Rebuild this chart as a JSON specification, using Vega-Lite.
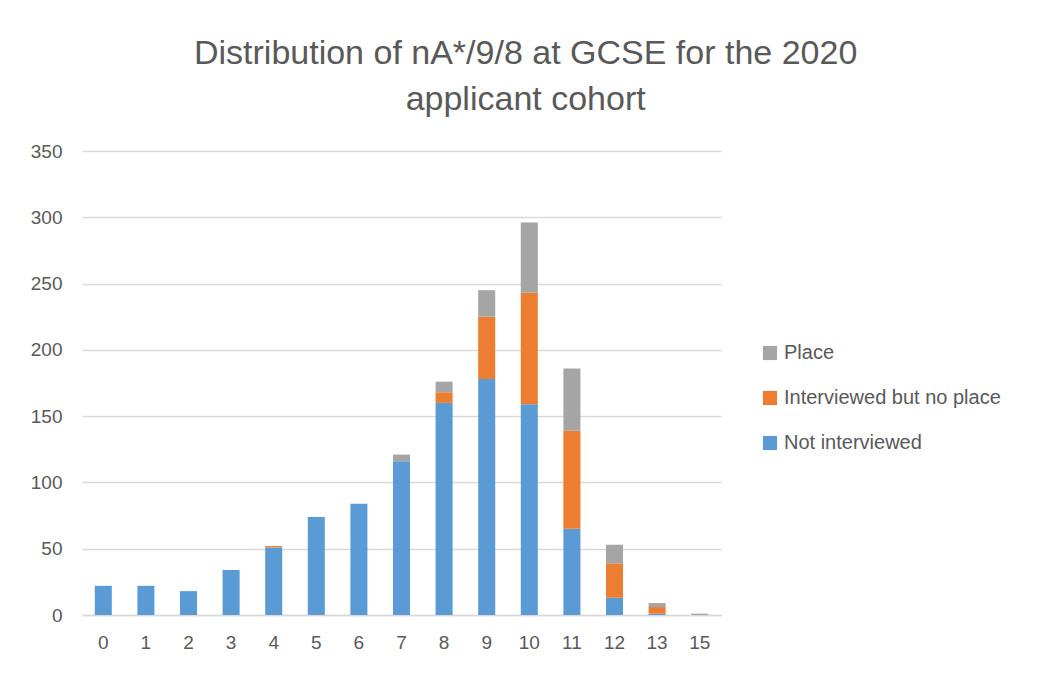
{
  "$schema": "https://vega.github.io/schema/vega-lite/v6.json",
  "width": 639,
  "height": 464,
  "padding": {"left": 30, "top": 37, "right": 10, "bottom": 10},
  "background": "white",
  "title": {
    "text": ["Distribution of nA*/9/8 at GCSE for the 2020", "applicant cohort"],
    "anchor": "middle",
    "frame": "bounds",
    "font": "Liberation Sans",
    "fontSize": 34,
    "fontWeight": "normal",
    "color": "#595959",
    "lineHeight": 46,
    "offset": 25,
    "dx": 10
  },
  "data": {
    "values": [
      {"gcse": "0", "status": "Not interviewed", "count": 22},
      {"gcse": "1", "status": "Not interviewed", "count": 22},
      {"gcse": "2", "status": "Not interviewed", "count": 18},
      {"gcse": "3", "status": "Not interviewed", "count": 34},
      {"gcse": "4", "status": "Not interviewed", "count": 51},
      {"gcse": "4", "status": "Interviewed but no place", "count": 1},
      {"gcse": "5", "status": "Not interviewed", "count": 74},
      {"gcse": "6", "status": "Not interviewed", "count": 84},
      {"gcse": "7", "status": "Not interviewed", "count": 116},
      {"gcse": "7", "status": "Place", "count": 5},
      {"gcse": "8", "status": "Not interviewed", "count": 160},
      {"gcse": "8", "status": "Interviewed but no place", "count": 8},
      {"gcse": "8", "status": "Place", "count": 8},
      {"gcse": "9", "status": "Not interviewed", "count": 178},
      {"gcse": "9", "status": "Interviewed but no place", "count": 47},
      {"gcse": "9", "status": "Place", "count": 20},
      {"gcse": "10", "status": "Not interviewed", "count": 159},
      {"gcse": "10", "status": "Interviewed but no place", "count": 84},
      {"gcse": "10", "status": "Place", "count": 53},
      {"gcse": "11", "status": "Not interviewed", "count": 65},
      {"gcse": "11", "status": "Interviewed but no place", "count": 74},
      {"gcse": "11", "status": "Place", "count": 47},
      {"gcse": "12", "status": "Not interviewed", "count": 13},
      {"gcse": "12", "status": "Interviewed but no place", "count": 26},
      {"gcse": "12", "status": "Place", "count": 14},
      {"gcse": "13", "status": "Not interviewed", "count": 1},
      {"gcse": "13", "status": "Interviewed but no place", "count": 5},
      {"gcse": "13", "status": "Place", "count": 3},
      {"gcse": "15", "status": "Place", "count": 1}
    ]
  },
  "transform": [
    {"calculate": "indexof(['Not interviewed','Interviewed but no place','Place'], datum.status)", "as": "stackOrder"}
  ],
  "mark": {"type": "bar"},
  "encoding": {
    "x": {
      "field": "gcse",
      "type": "ordinal",
      "sort": ["0","1","2","3","4","5","6","7","8","9","10","11","12","13","15"],
      "scale": {"paddingInner": 0.6, "paddingOuter": 0.3},
      "axis": {
        "title": null,
        "labelAngle": 0,
        "ticks": false,
        "labelPadding": 18,
        "domainColor": "#d9d9d9",
        "domainWidth": 1.5,
        "labelFont": "Liberation Sans",
        "labelFontSize": 19,
        "labelColor": "#595959"
      }
    },
    "y": {
      "field": "count",
      "type": "quantitative",
      "aggregate": "sum",
      "stack": "zero",
      "scale": {"domain": [0, 350]},
      "axis": {
        "title": null,
        "values": [0, 50, 100, 150, 200, 250, 300, 350],
        "domain": false,
        "ticks": false,
        "labelPadding": 20,
        "gridColor": "#d9d9d9",
        "gridWidth": 1.5,
        "labelFont": "Liberation Sans",
        "labelFontSize": 19,
        "labelColor": "#595959"
      }
    },
    "color": {
      "field": "status",
      "type": "nominal",
      "scale": {
        "domain": ["Place", "Interviewed but no place", "Not interviewed"],
        "range": ["#a5a5a5", "#ed7d31", "#5b9bd5"]
      },
      "legend": {
        "title": null,
        "orient": "none",
        "legendX": 678,
        "legendY": 192,
        "symbolType": "square",
        "symbolSize": 200,
        "symbolStrokeWidth": 0,
        "rowPadding": 25,
        "labelLimit": 0,
        "labelFont": "Liberation Sans",
        "labelFontSize": 20,
        "labelColor": "#595959",
        "labelOffset": 4
      }
    },
    "order": {"field": "stackOrder", "type": "quantitative"}
  },
  "config": {
    "view": {"stroke": null}
  }
}
